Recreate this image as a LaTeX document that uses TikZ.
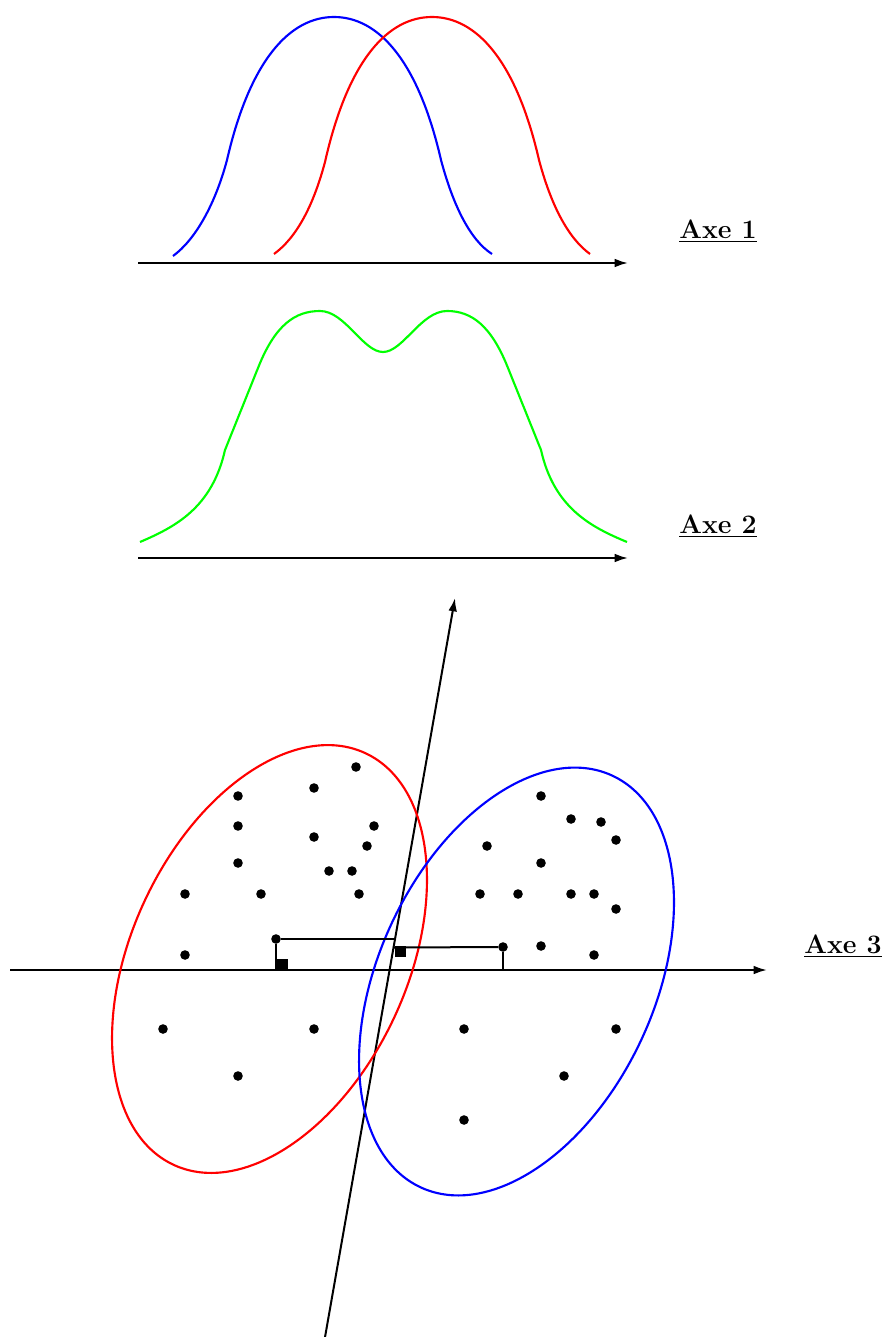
\documentclass[tikz,border=0pt]{standalone}
\usetikzlibrary{arrows.meta}
\begin{document}
\begin{tikzpicture}[x=0.75pt,y=-0.75pt,
  axis/.style={line width=1.5pt,-{Latex[length=10pt,width=6.5pt]}},
  curve/.style={line width=1.6pt},
  dot/.style={circle,fill=black,inner sep=0pt,minimum size=7.2pt},
  proj/.style={line width=1.5pt},
  axlabel/.style={font=\fontsize{20}{24}\selectfont\bfseries,inner sep=0pt}]
\useasboundingbox (0,0) rectangle (887,1337);
% Axe 1
\coordinate (a1s) at (138,263);
\coordinate (a1e) at (628,263);
\draw[axis] (a1s) -- (a1e);
\node[axlabel] (l1) at (718,231) {\underline{Axe 1}};
\draw[curve,blue] (173,256) .. controls (195,240) and (215,205) .. (227,160)
  .. controls (250,60) and (290,17) .. (334,17)
  .. controls (378,17) and (418,60) .. (441,160)
  .. controls (453,205) and (470,240) .. (492,254);
\draw[curve,red] (274,254) .. controls (296,238) and (313,207) .. (325,162)
  .. controls (348,60) and (388,17) .. (432,17)
  .. controls (476,17) and (516,60) .. (539,160)
  .. controls (551,205) and (568,238) .. (590,254);
% Axe 2
\coordinate (a2s) at (138,558);
\coordinate (a2e) at (628,558);
\draw[axis] (a2s) -- (a2e);
\node[axlabel] (l2) at (718,526) {\underline{Axe 2}};
\draw[curve,green] (140,542) .. controls (175,527) and (212,508) .. (225,450)
  -- (258,368) .. controls (275,325) and (295,311) .. (320,311)
  .. controls (345,311) and (363,352) .. (383,352)
  .. controls (403,352) and (421,311) .. (447,311)
  .. controls (471,311) and (491,325) .. (508,368)
  -- (541,450) .. controls (554,508) and (591,527) .. (627,542);
% Axe 3 and oblique axis
\coordinate (a3s) at (10,970);
\coordinate (a3e) at (767,970);
\draw[axis] (a3s) -- (a3e);
\node[axlabel] (l3) at (843,946) {\underline{Axe 3}};
\coordinate (obs) at (324.5,1340);
\coordinate (obe) at (455,598);
\draw[axis] (obs) -- (obe);
% ellipses
\coordinate (cr) at (269.5,959);
\coordinate (cb) at (516.5,981.5);
\draw[curve,red,rotate around={65:(cr)}] (cr) ellipse [x radius=170.3pt,y radius=103.3pt];
\draw[curve,blue,rotate around={65:(cb)}] (cb) ellipse [x radius=170.3pt,y radius=103.3pt];
% points
\foreach \p [count=\i] in {(356,767),(238,796),(314,788),(238,826),(374,826),(314,837),(367,846),(238,863),(329,871),(352,871),(185,894),(261,894),(359,894),(185,955),(163,1029),(314,1029),(238,1076),
  (541,796),(571,819),(601,822),(616,840),(487,846),(541,863),(480,894),(518,894),(571,894),(594,894),(616,909),(541,946),(594,955),(464,1029),(616,1029),(564,1076),(464,1120)}
  \node[dot] (p\i) at \p {};
\node[dot] (pa) at (276,939) {};
\node[dot] (pb) at (503,947) {};
% projections
\coordinate (pa3) at (276,970);
\coordinate (paO) at (394.8,939);
\coordinate (pb3) at (503,970);
\coordinate (pbO) at (393.4,947.5);
\draw[proj] (pa) -- (pa3);
\draw[proj] (pa) -- (paO);
\draw[proj] (pb) -- (pb3);
\draw[proj] (pb) -- (pbO);
\fill (277,959) rectangle (288,970);
\fill (395,946) rectangle (406,957);
\end{tikzpicture}
\end{document}
